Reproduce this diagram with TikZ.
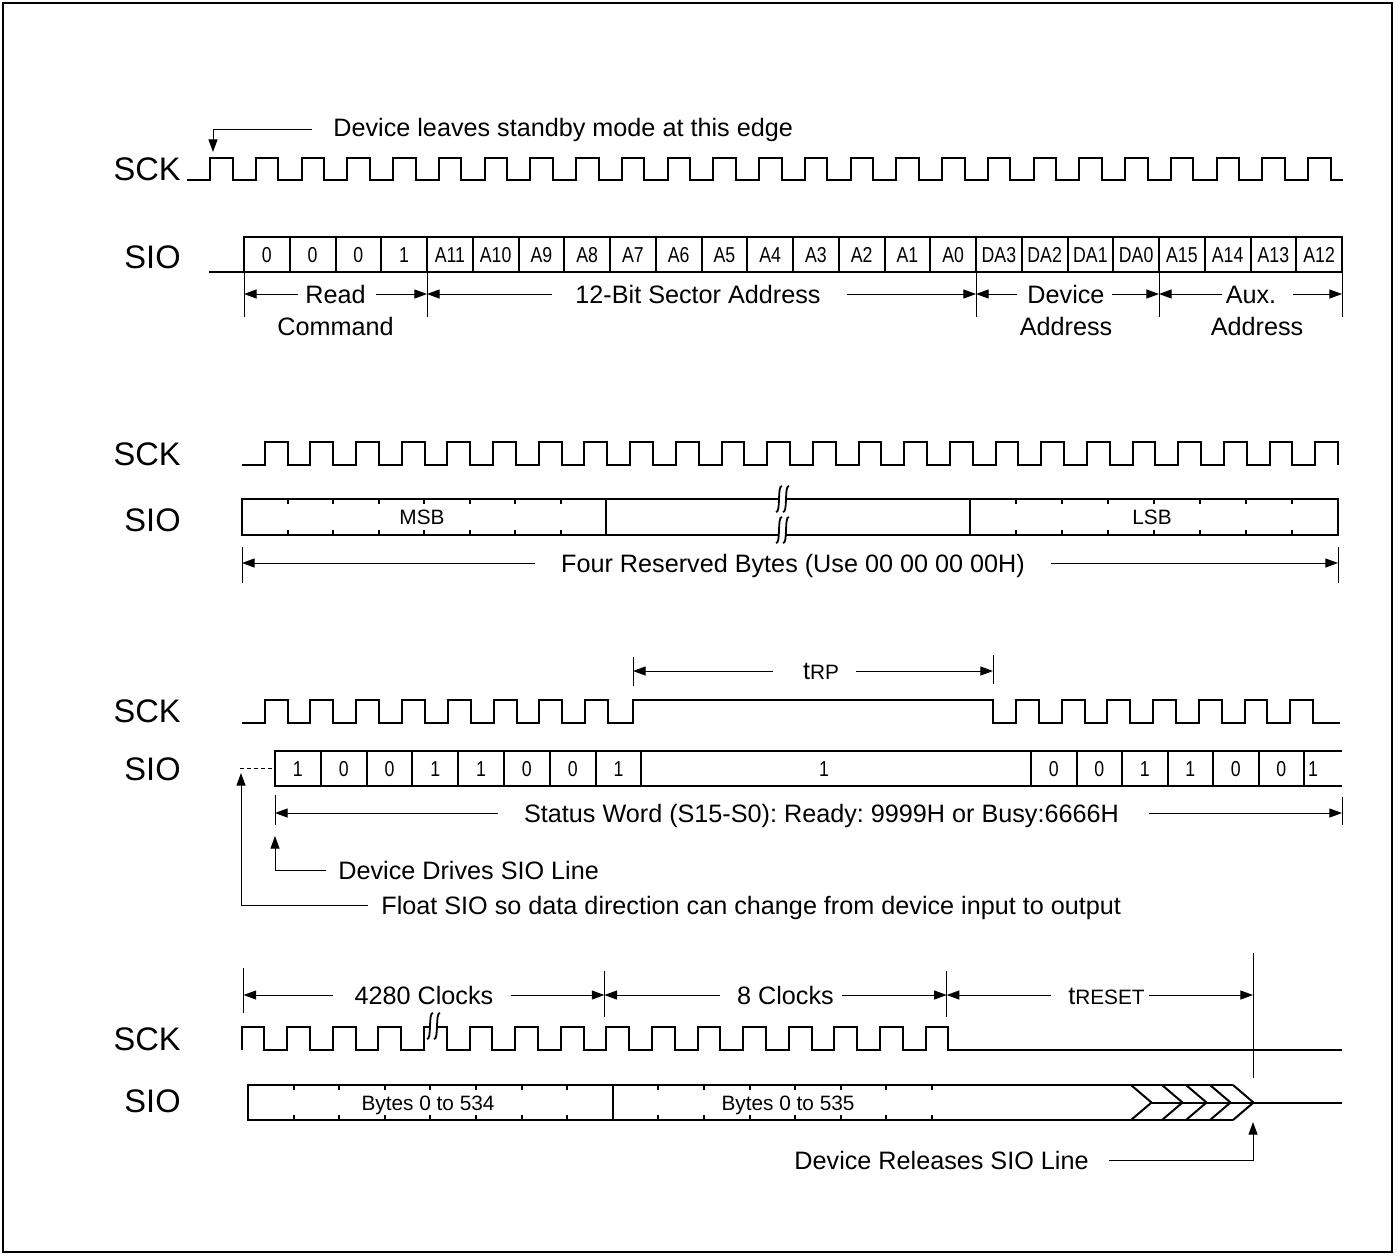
\documentclass[tikz,border=0pt]{standalone}
\usepackage{fontspec}
\setmainfont{Liberation Sans}
\newfontfamily\narrowsf{Liberation Sans}[FakeStretch=0.82]
\usetikzlibrary{arrows.meta}
\frenchspacing

\newcommand{\lblfont}{\fontsize{16.3}{18}\selectfont}
\newcommand{\txtfont}{\fontsize{12.6}{14}\selectfont}
\newcommand{\cellfont}{\narrowsf\fontsize{10.8}{12}\selectfont}
\newcommand{\smlfont}{\fontsize{10.4}{12}\selectfont}

\begin{document}
\begin{tikzpicture}[x=0.5pt,y=-0.5pt,
  wave/.style={line width=1pt},
  box/.style={line width=1pt},
  dim/.style={line width=0.5pt},
  tip/.style={dim,-{Triangle[length=6.3pt,width=4.5pt]}},
  lbl/.style={anchor=base east,font=\lblfont,inner sep=0pt},
  txt/.style={anchor=base,font=\txtfont,inner sep=0pt},
  cell/.style={anchor=base,font=\cellfont,inner sep=0pt},
  sml/.style={anchor=base,font=\smlfont,inner sep=0pt}]
\fill[white] (0,0) rectangle (1397,1255);
\useasboundingbox (0,0) rectangle (1397,1255);
\draw[line width=1pt] (3,3) rectangle (1392,1252);

% A) Read command and sector address
\node[txt,anchor=base west] (standby) at (333,136) {Device leaves standby mode at this edge};
\draw[tip] (312,129) -| (213,152);
\node[lbl] (sck1) at (181,180) {SCK};
\draw[wave] (187,180) \foreach \k in {0,...,24} { -- ({210+45.75*\k},180) -- ++(0,-22) -- ++(22.5,0) -- ++(0,22) } -- (1343,180);
\node[lbl] (sio1) at (181,268) {SIO};
\draw[box] (209,272) -- (1342,272) -- (1342,237) -- (244,237) -- (244,272);
\foreach \k in {1,...,23} \draw[box] ({244+45.75*\k},237) -- ++(0,35);
\foreach \lab [count=\k from 0] in {0,0,0,1,A11,A10,A9,A8,A7,A6,A5,A4,A3,A2,A1,A0,DA3,DA2,DA1,DA0,A15,A14,A13,A12}
  \node[cell] (c\k) at ({244+45.75*(\k+0.5)},262) {\lab};
\foreach \x in {244,427,976,1159,1342} \draw[dim] (\x,272) -- (\x,317);
\node[txt] (read) at (335.5,303) {Read};
\node[txt] (cmd) at (335.5,335) {Command};
\draw[tip] (298,294) -- (244,294);
\draw[tip] (376,294) -- (427,294);
\node[txt] (sector) at (698,303) {12-Bit Sector Address};
\draw[tip] (552,294) -- (427,294);
\draw[tip] (847,294) -- (976,294);
\node[txt] (dev) at (1066,303) {Device};
\node[txt] (devadr) at (1066,335) {Address};
\draw[tip] (1017,294) -- (976,294);
\draw[tip] (1112,294) -- (1159,294);
\node[txt] (aux) at (1251,303) {Aux.};
\node[txt] (auxadr) at (1257,335) {Address};
\draw[tip] (1222,294) -- (1159,294);
\draw[tip] (1293,294) -- (1342,294);

% B) Four reserved bytes
\node[lbl] (sck2) at (181,465) {SCK};
\draw[wave] (242,465) \foreach \k in {0,...,23} { -- ({264.8+45.67*\k},465) -- ++(0,-23) -- ++(22.83,0) -- ++(0,23) };
\node[lbl] (sio2) at (181,531) {SIO};
\draw[box] (242,499) rectangle (1338,535);
\draw[box] (606,499) -- (606,535) (970,499) -- (970,535);
\foreach \k in {1,...,7}
  \draw[box] ({242+45.5*\k},499) -- ++(0,5) ({242+45.5*\k},535) -- ++(0,-5)
             ({970+46*\k},499) -- ++(0,5) ({970+46*\k},535) -- ++(0,-5);
\node[sml] (msb) at (422,524) {MSB};
\node[sml] (lsb) at (1152,524) {LSB};
\draw[dim] (242,547) -- (242,583) (1338,547) -- (1338,583);
\node[txt] (resv) at (793,572) {Four Reserved Bytes (Use 00 00 00 00H)};
\draw[tip] (535,563) -- (242,563);
\draw[tip] (1051,563) -- (1338,563);

% C) Status word
\draw[dim] (633,657) -- (633,686) (993,655) -- (993,684);
\node[txt] (trp) at (821,679) {t{\smlfont RP}};
\draw[tip] (773,671) -- (633,671);
\draw[tip] (856,671) -- (993,671);
\node[lbl] (sck3) at (181,722) {SCK};
\draw[wave] (242,723) \foreach \k in {0,...,7} { -- ({264.6+45.8*\k},723) -- ++(0,-23) -- ++(22.9,0) -- ++(0,23) }
  -- (633,723) -- (633,700) -- (993,700) -- (993,723)
  \foreach \k in {0,...,6} { -- ({1016+45.7*\k},723) -- ++(0,-23) -- ++(22.85,0) -- ++(0,23) } -- (1340,723);
\node[lbl] (sio3) at (181,780) {SIO};
\draw[dim,dash pattern=on 2pt off 1.5pt] (240,768) -- (275,768);
\draw[box] (1342,751) -- (275,751) -- (275,786) -- (1342,786);
\foreach \k in {1,...,8} \draw[box] ({275+45.8*\k},751) -- ++(0,35);
\foreach \k in {0,...,6} \draw[box] ({1031+45.5*\k},751) -- ++(0,35);
\foreach \lab [count=\k from 0] in {1,0,0,1,1,0,0,1}
  \node[cell] (sa\k) at ({275+45.8*(\k+0.5)},776) {\lab};
\node[cell] (slong) at (824,776) {1};
\foreach \lab [count=\k from 0] in {0,0,1,1,0,0}
  \node[cell] (sb\k) at ({1031+45.5*(\k+0.5)},776) {\lab};
\node[cell] (sb6) at (1313,776) {1};
\draw[dim] (275,795) -- (275,825) (1342,797) -- (1342,825);
\node[txt] (status) at (821.5,822) {Status Word (S15-S0): Ready: 9999H or Busy:6666H};
\draw[tip] (498,813) -- (275,813);
\draw[tip] (1149,813) -- (1342,813);
\node[txt,anchor=base west] (drives) at (338,879) {Device Drives SIO Line};
\draw[tip] (326,870) -| (275,836);
\node[txt,anchor=base west] (float) at (381,914) {Float SIO so data direction can change from device input to output};
\draw[tip] (368,905) -| (241,773);

% D) Data bytes and reset
\draw[dim] (243.5,968) -- (243.5,1013) (604.4,971) -- (604.4,1017) (946.7,971) -- (946.7,1017) (1253,953) -- (1253,1078);
\node[txt] (c4280) at (424,1004) {4280 Clocks};
\draw[tip] (333,995) -- (243.5,995);
\draw[tip] (511,995) -- (604.4,995);
\node[txt] (c8) at (785.5,1004) {8 Clocks};
\draw[tip] (720,995) -- (604.4,995);
\draw[tip] (842,995) -- (946.7,995);
\node[txt] (trst) at (1106.5,1004) {t{\smlfont RESET}};
\draw[tip] (1051,995) -- (946.7,995);
\draw[tip] (1149,995) -- (1253,995);
\node[lbl] (sck4) at (181,1050) {SCK};
\draw[wave] (241.6,1050) \foreach \k in {0,...,15} { -- ({241.6+45.6*\k},1050) -- ++(0,-23) -- ++(22.8,0) -- ++(0,23) } -- (1342,1050);
\node[lbl] (sio4) at (181,1112) {SIO};
\draw[box] (1233,1085) -- (248,1085) -- (248,1120) -- (1233,1120);
\draw[box] (612.8,1085) -- ++(0,35);
\foreach \k in {1,...,7}
  \draw[box] ({248+45.6*\k},1085) -- ++(0,5) ({248+45.6*\k},1120) -- ++(0,-5)
             ({612.8+45.6*\k},1085) -- ++(0,5) ({612.8+45.6*\k},1120) -- ++(0,-5);
\foreach \x in {1131,1162,1186,1210,1233} \draw[box] (\x,1085) -- ++(20.5,17.5) -- ++(-20.5,17.5);
\draw[box] (1151.5,1102.5) -- (1342,1102.5);
\node[sml] (b534) at (428,1110) {Bytes 0 to 534};
\node[sml] (b535) at (788,1110) {Bytes 0 to 535};
\node[txt,anchor=base east] (release) at (1089,1169) {Device Releases SIO Line};
\draw[tip] (1109,1160) -| (1253,1122);

% breaks
\foreach \bx/\by in {780/499, 780/530, 431/1026} {
  \fill[white] (\bx-4,\by+13) .. controls (\bx+1,\by+14) and (\bx-3,\by-14) .. (\bx+2,\by-13)
    -- (\bx+9,\by-13) .. controls (\bx+4,\by-14) and (\bx+8,\by+14) .. (\bx+3,\by+13) -- cycle;
  \draw[line width=0.9pt] (\bx-4,\by+13) .. controls (\bx+1,\by+14) and (\bx-3,\by-14) .. (\bx+2,\by-13);
  \draw[line width=0.9pt] (\bx+3,\by+13) .. controls (\bx+8,\by+14) and (\bx+4,\by-14) .. (\bx+9,\by-13);
}
\end{tikzpicture}
\end{document}
